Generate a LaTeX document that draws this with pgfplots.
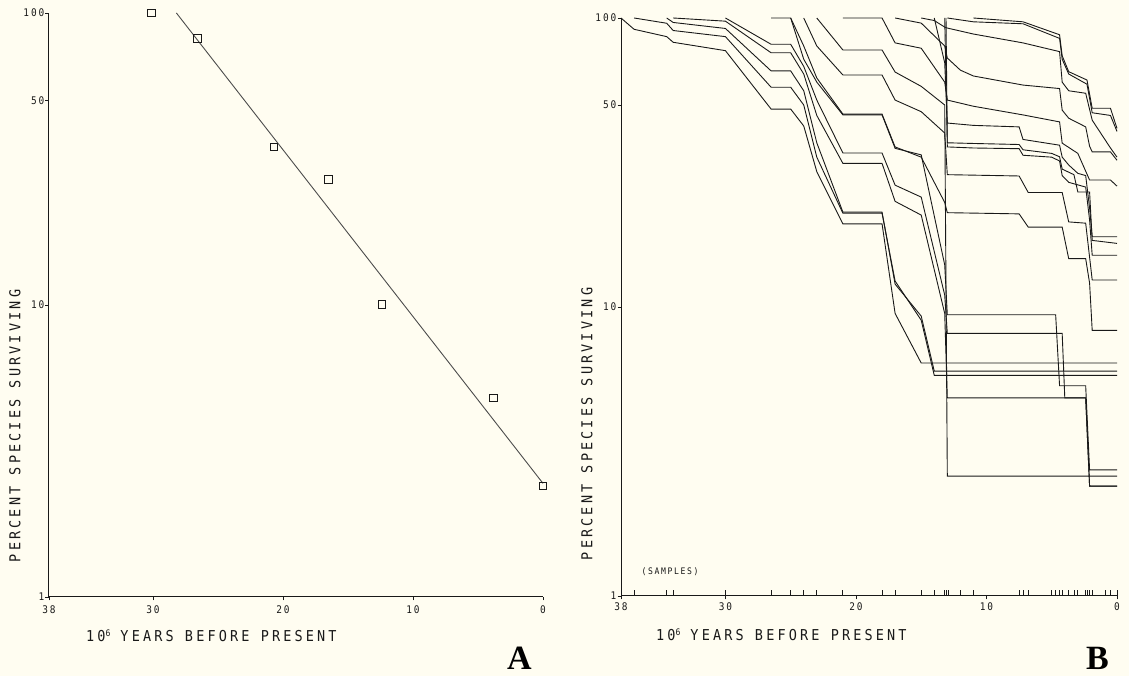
\documentclass[border=0pt]{standalone}
\usepackage{fontspec}
\usepackage{pgfplots}
\pgfplotsset{compat=1.18}
\newfontfamily\plotfont[FakeStretch=0.9,LetterSpace=21]{DejaVu Sans Mono}
\newfontfamily\tickfont[FakeStretch=0.9,LetterSpace=18]{DejaVu Sans Mono}
\newfontfamily\letterfont{Liberation Serif}
\definecolor{bg}{RGB}{255,253,241}
\definecolor{ink}{RGB}{25,25,25}
\pgfplotsset{
  cv/.style={ink, line width=0.9pt, no markers},
}
\begin{document}
\begin{tikzpicture}
\path[fill=bg] (0pt,0pt) rectangle (1129pt,676pt);
% ---------------- Panel A ----------------
\begin{axis}[scale only axis, anchor=south west, at={(49pt,79pt)}, width=494pt, height=584pt,
    xmin=0, xmax=38, x dir=reverse,
    ymode=log, ymin=1, ymax=100,
    axis x line*=bottom, axis y line*=left,
    ytick={1,10,50,100}, yticklabels={1,10,50,100},
    xtick={38,30,20,10,0}, xticklabels={38,30,20,10,0},
    yminorticks=false, xminorticks=false,
    tick align=outside, major tick length=3.5pt,
    axis line style={ink, line width=1pt},
    tick style={ink, line width=0.8pt},
    tick label style={font=\tickfont\fontsize{10.5}{11}\selectfont, text=ink, inner sep=1pt},
    xticklabel style={yshift=-4pt},
    clip=false]
\addplot[color=black!70, line width=0.9pt, no markers] coordinates {(28.2,100) (0,2.45)};
\addplot[only marks, mark=square, mark size=3.8pt, mark options={ink, line width=0.9pt, fill=bg}]
  coordinates {(30.1,100) (26.6,82) (20.7,34.8) (16.5,26.9) (12.4,10.05) (3.82,4.8) (0,2.4)};
\end{axis}
% ---------------- Panel B ----------------
\begin{axis}[scale only axis, anchor=south west, at={(621pt,80pt)}, width=496pt, height=578pt,
    xmin=0, xmax=38, x dir=reverse,
    ymode=log, ymin=1, ymax=100,
    axis x line*=bottom, axis y line*=left,
    ytick={1,10,50,100}, yticklabels={1,10,50,100},
    xtick={38,30,20,10,0}, xticklabels={38,30,20,10,0},
    yminorticks=false, xminorticks=false,
    tick align=outside, major tick length=3.5pt,
    axis line style={ink, line width=1pt},
    tick style={ink, line width=0.8pt},
    tick label style={font=\tickfont\fontsize{10.5}{11}\selectfont, text=ink, inner sep=1pt},
    xticklabel style={yshift=-2pt},
    clip=false,
    extra x ticks={38,37,34.5,34,30,26.5,25,24,23,21,18,17,15,14,13.2,13.1,12.9,12,11,7.5,7.2,6.8,5,4.7,4.4,4.2,3.7,3.3,3,2.4,2.3,2.1,1.9,0.9,0.5,0},
    extra x tick labels={},
    extra x tick style={tick align=inside, major tick length=6pt, tick style={ink, line width=0.8pt}}]
% older cohorts
\addplot[cv] coordinates {(38,100)(37,91.4)(34.5,86.2)(34,82.4)(30,77.1)(26.5,48.4)(25,48.4)(24,42.3)(23,29.4)(21,19.4)(18,19.4)(17,9.5)(15,6.4)(0,6.4)};
\addplot[cv] coordinates {(37,100)(34.5,95.9)(34,90.5)(30,86.2)(26.5,57.6)(25,57.6)(24,50)(23,33)(21,21.1)(18,21.1)(17,12.3)(15,9.0)(14,5.8)(0,5.8)};
\addplot[cv] coordinates {(34.5,100)(34,96.5)(30,92)(26.5,65.6)(25,65.6)(24,56)(23,37)(21,21.3)(18,21.3)(17,12.0)(15,9.3)(14,6.0)(0,6.0)};
\addplot[cv] coordinates {(34,100)(30,97.5)(26.5,75.8)(25,75.8)(24,64)(23,46)(21,31.4)(18,31.4)(17,23.2)(15,20.8)(13.2,9.5)(13,4.85)(4.0,4.85)(2.4,4.85)(2.1,2.4)(0,2.4)};
\addplot[cv] coordinates {(30,100)(26.5,81.1)(25,81.1)(24,68)(23,52)(21,34.1)(18,34.1)(17,26.4)(15,24.0)(13.2,11)(13,8.1)(4.2,8.1)(4.0,4.85)(2.4,4.85)(2.1,2.4)(0,2.4)};
\addplot[cv] coordinates {(26.5,100)(25,100)(24,72)(23,60)(21,46.2)(18,46.2)(17,35.4)(15,33.6)(13.2,14)(13,9.4)(4.7,9.4)(4.4,5.34)(2.4,5.34)(2.1,2.73)(0,2.73)};
\addplot[cv] coordinates {(25,100)(24,80)(23,62)(21,46.5)(18,46.5)(17,35.8)(15,33.0)(13.2,23)(13,21.2)(7.5,21)(6.8,18.9)(4.2,18.9)(3.7,14.7)(2.4,14.7)(2.1,12.1)(1.9,8.3)(0,8.3)};
\addplot[cv] coordinates {(24,100)(23,80)(21,63.5)(18,63.5)(17,52)(15,47.4)(13.2,40)(13,28.7)(7.5,28.4)(6.8,24.9)(4.2,24.9)(3.7,19.7)(2.4,19.5)(1.9,12.4)(0,12.4)};
\addplot[cv] coordinates {(23,100)(21,77.5)(18,77.5)(17,65)(15,58)(13.2,50)(13,2.6)(0,2.6)};
\addplot[cv] coordinates {(21,100)(18,100)(17,82)(15,78.6)(13.2,60)(13,52)(11,49.5)(7.2,46.2)(4.4,43.7)(4.2,36.9)(3.0,34.0)(2.1,27.5)(0.5,27.5)(0,26.2)};
% younger cohorts
\addplot[cv] coordinates {(17,100)(15,96)(13.2,80)(13,72.7)(12,66)(11,63)(7.2,58.6)(4.4,57)(4.2,48)(3.7,45)(2.4,42)(2.1,36)(1.9,34.4)(0.5,34.4)(0,32.2)};
\addplot[cv] coordinates {(15,100)(14,98)(13.2,93)(13,92.3)(11,88)(7.2,82)(4.4,76.5)(4.2,60)(3.7,56)(2.4,54.9)(1.9,44.3)(0.5,35.5)(0,33)};
\addplot[cv] coordinates {(14,100)(13.2,70)(13,43.3)(11,42.5)(7.5,42)(7.2,38)(4.4,36.3)(4.2,33)(3.7,31)(3.0,29)(2.4,28.5)(2.1,22)(1.9,17.5)(0,17.5)};
\addplot[cv] coordinates {(13.2,100)(13,37)(11,36.8)(7.5,36.5)(7.2,35)(5,34)(4.4,33.1)(4.2,30)(3.3,28.7)(3.0,25)(2.1,25)(1.9,17)(0,16.6)};
\addplot[cv] coordinates {(13.1,100)(13,35.8)(11,35.5)(7.5,35.3)(7.2,33.5)(5,33)(4.4,32)(4.2,28.5)(3.7,27)(2.4,26)(2.1,20)(1.9,15.1)(0,15.1)};
\addplot[cv] coordinates {(13,100)(11,97)(7.2,95.5)(4.4,85)(4.2,72)(3.7,64)(2.3,59)(1.9,47)(0.5,46)(0,40.5)};
\addplot[cv] coordinates {(11,100)(7.2,97)(4.4,87.5)(4.2,74)(3.7,65.2)(2.3,61)(1.9,48.7)(0.5,48.7)(0,41.5)};
\end{axis}
% ---------------- Text ----------------
\node[rotate=90, font=\plotfont\fontsize{15}{15}\selectfont, text=ink] at (15pt,250pt) {PERCENT SPECIES SURVIVING};
\node[rotate=90, font=\plotfont\fontsize{15}{15}\selectfont, text=ink] at (587pt,252pt) {PERCENT SPECIES SURVIVING};
\node[anchor=west, font=\plotfont\fontsize{15}{15}\selectfont, text=ink, inner sep=0pt] at (86pt,40pt) {10\raisebox{5.5pt}{\fontsize{9}{9}\selectfont 6}\hspace{10pt}YEARS BEFORE PRESENT};
\node[anchor=west, font=\plotfont\fontsize{15}{15}\selectfont, text=ink, inner sep=0pt] at (656pt,41pt) {10\raisebox{5.5pt}{\fontsize{9}{9}\selectfont 6}\hspace{10pt}YEARS BEFORE PRESENT};
\node[font=\tickfont\fontsize{9}{9}\selectfont, text=ink] at (670pt,104pt) {(SAMPLES)};
\node[font=\letterfont\bfseries\fontsize{34}{34}\selectfont, text=black, inner sep=1pt] at (519.5pt,18pt) {A};
\node[font=\letterfont\bfseries\fontsize{34}{34}\selectfont, text=black, inner sep=1pt] at (1097.5pt,18pt) {B};
\end{tikzpicture}
\end{document}
